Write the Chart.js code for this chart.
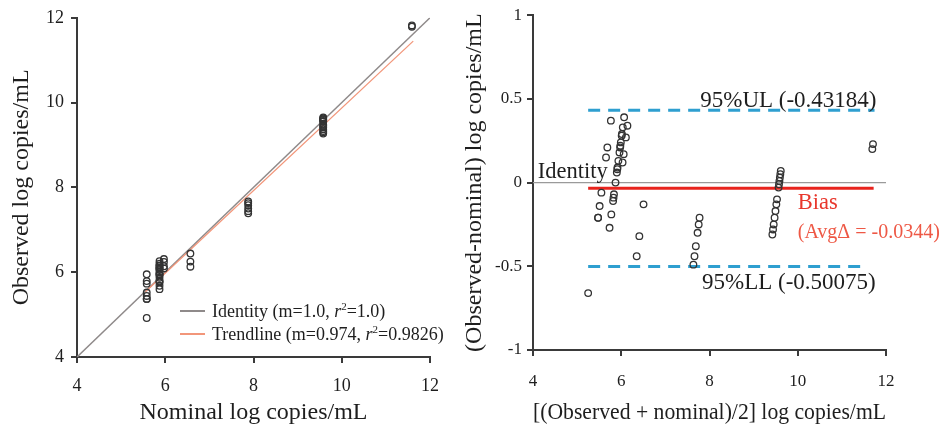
<!DOCTYPE html>
<html><head><meta charset="utf-8">
<script src="https://cdn.jsdelivr.net/npm/chart.js@4.4.0/dist/chart.umd.min.js"></script>
<style>
html,body{margin:0;padding:0;background:#fff;width:943px;height:430px;overflow:hidden;}
#c1{position:absolute;left:0;top:0;}
#c2{position:absolute;left:458px;top:0;}
</style></head><body>
<canvas id="c1" width="470" height="430"></canvas>
<canvas id="c2" width="485" height="430"></canvas>
<script>
// ---------- data ----------
const nominalLog = [
  5.58,5.58,5.58,5.58,5.58,5.58,5.58,5.58,
  5.87,5.87,5.87,5.87,5.87,5.87,5.87,5.87,5.87,5.87,5.87,5.87,5.87,5.87,5.87,5.87,5.87,5.87,
  5.97,5.97,5.97,5.97,
  6.57,6.57,6.57,
  7.88,7.88,7.88,7.88,7.88,7.88,
  9.58,9.58,9.58,9.58,9.58,9.58,9.58,9.58,9.58,9.58,9.58,9.58,9.58,
  11.59,11.59
];
const observedLog = [
  4.92,5.37,5.37,5.44,5.52,5.73,5.79,5.95,
  5.60,5.68,5.76,5.78,5.80,5.87,5.93,5.95,5.96,6.00,6.05,6.08,6.09,6.11,6.15,6.16,6.20,6.26,
  6.09,6.14,6.24,6.31,
  6.44,6.25,6.13,
  7.67,7.63,7.58,7.50,7.44,7.39,
  9.65,9.63,9.61,9.59,9.57,9.55,9.48,9.45,9.41,9.37,9.33,9.30,9.27,
  11.82,11.79
];
const identityX = [4, 12];
const identityY = [4, 12];
const trendX = [5.55, 11.62];
const trendY = [5.54, 11.45];

const biasValue = -0.0344;
const upperLimit = 0.43184;
const lowerLimit = -0.50075;
const zeroLineX = [4, 12];
const biasX = [5.25, 11.72];
const upperX = [5.25, 11.74];
const lowerX = [5.25, 11.57];

const axisTicksX = [4, 6, 8, 10, 12];
const leftTicksY = [4, 6, 8, 10, 12];
const rightTicksY = [-1, -0.5, 0, 0.5, 1];

const legendTexts = [
  ['Identity (m=1.0, ', '=1.0)'],
  ['Trendline (m=0.974, ', '=0.9826)']
];
const upperLabel = '95%UL (-0.43184)';
const lowerLabel = '95%LL (-0.50075)';
const identityLabel = 'Identity';
const biasLabel = 'Bias';
const avgLabel = '(Avg\u0394 = -0.0344)';

// ---------- derived (Bland-Altman) ----------
const baMean = nominalLog.map((n, i) => (n + observedLog[i]) / 2);
const baDiff = nominalLog.map((n, i) => observedLog[i] - n);

const FONT = "'Liberation Serif', 'Times New Roman', serif";
const AXC = '#3a3a3a';
const TXT = '#1e1e1e';

function pts(xs, ys) { return xs.map((x, i) => ({x, y: ys[i]})); }

function axis(min, max, ticks, fontSize, tickPad, title, titlePad, fitProp, fitVal) {
  return {
    type: 'linear', min, max,
    afterBuildTicks: s => { s.ticks = ticks.map(v => ({value: v})); },
    ticks: {font: {family: FONT, size: fontSize}, color: TXT, padding: tickPad,
            callback: v => String(v)},
    grid: {drawOnChartArea: false, drawTicks: true, tickLength: 6, color: AXC, lineWidth: 2},
    border: {display: true, color: AXC, width: 2},
    title: {display: true, text: title, color: TXT, font: {family: FONT, size: 24}, padding: titlePad},
    afterFit: s => { s[fitProp] = fitVal; }
  };
}

// ---------- left chart ----------
const legendPlugin = {
  id: 'legendLeft',
  afterDraw(chart) {
    const ctx = chart.ctx;
    const rows = [{y: 311, color: '#8f8a8a'}, {y: 334, color: '#f2967a'}];
    ctx.save();
    rows.forEach((r, i) => {
      ctx.strokeStyle = r.color; ctx.lineWidth = 2;
      ctx.beginPath(); ctx.moveTo(180, r.y); ctx.lineTo(205, r.y); ctx.stroke();
      ctx.fillStyle = TXT; ctx.textBaseline = 'alphabetic';
      let x = 212; const base = r.y + 6;
      ctx.font = '18px ' + FONT;
      ctx.fillText(legendTexts[i][0], x, base); x += ctx.measureText(legendTexts[i][0]).width;
      ctx.font = 'italic 18px ' + FONT;
      ctx.fillText('r', x, base); x += ctx.measureText('r').width;
      ctx.font = '11px ' + FONT;
      ctx.fillText('2', x, base - 7); x += ctx.measureText('2').width;
      ctx.font = '18px ' + FONT;
      ctx.fillText(legendTexts[i][1], x, base);
    });
    ctx.restore();
  }
};

new Chart(document.getElementById('c1'), {
  type: 'scatter',
  data: {datasets: [
    {data: pts(nominalLog, observedLog), pointRadius: 3.3, pointHoverRadius: 3.3, borderWidth: 1.3,
     borderColor: '#333', backgroundColor: 'rgba(0,0,0,0)', order: 0},
    {type: 'line', data: pts(identityX, identityY), borderColor: '#8f8a8a', borderWidth: 1.5,
     pointRadius: 0, fill: false, order: 2},
    {type: 'line', data: pts(trendX, trendY), borderColor: '#f2967a', borderWidth: 1.3,
     pointRadius: 0, fill: false, order: 1}
  ]},
  options: {
    responsive: false, animation: false, devicePixelRatio: 1,
    layout: {padding: {left: 0, top: 15, right: 40, bottom: 0}, autoPadding: false},
    plugins: {legend: {display: false}, tooltip: {enabled: false}},
    scales: {
      x: axis(4, 12, axisTicksX, 18, 12.7, 'Nominal log copies/mL', {top: 0, bottom: 3}, 'height', 73),
      y: axis(4, 12, leftTicksY, 18, 7, 'Observed log copies/mL', {top: 7.3, bottom: 0}, 'width', 77)
    }
  },
  plugins: [legendPlugin]
});

// ---------- right chart ----------
const annotPlugin = {
  id: 'annotRight',
  afterDraw(chart) {
    const ctx = chart.ctx, xs = chart.scales.x, ys = chart.scales.y;
    const put = (text, xv, yv, size, color) => {
      ctx.font = size + 'px ' + FONT; ctx.fillStyle = color;
      ctx.textBaseline = 'alphabetic'; ctx.textAlign = 'left';
      ctx.fillText(text, xs.getPixelForValue(xv), ys.getPixelForValue(yv));
    };
    ctx.save();
    put(upperLabel, 7.79, 0.454, 23, TXT);
    put(lowerLabel, 7.83, -0.635, 23, TXT);
    put(identityLabel, 4.11, 0.026, 22.5, TXT);
    put(biasLabel, 10.0, -0.155, 22.5, '#e8372c');
    put(avgLabel, 10.0, -0.33, 20, '#ee5845');
    ctx.restore();
  }
};

function hline(xr, yv, color, width, dash, order) {
  return {type: 'line', data: pts(xr, [yv, yv]), borderColor: color, borderWidth: width,
          borderDash: dash, pointRadius: 0, fill: false, order};
}

new Chart(document.getElementById('c2'), {
  type: 'scatter',
  data: {datasets: [
    {data: pts(baMean, baDiff), pointRadius: 3.3, pointHoverRadius: 3.3, borderWidth: 1.3,
     borderColor: '#333', backgroundColor: 'rgba(0,0,0,0)', order: 0},
    hline(zeroLineX, 0, '#9a9a9a', 1.2, [], 4),
    hline(biasX, biasValue, '#e8231d', 3, [], 1),
    hline(upperX, upperLimit, '#2e9fd0', 3, [12, 8], 2),
    hline(lowerX, lowerLimit, '#2e9fd0', 3, [12, 8], 3)
  ]},
  options: {
    responsive: false, animation: false, devicePixelRatio: 1,
    layout: {padding: {left: 0, top: 15, right: 57, bottom: 0}, autoPadding: false},
    plugins: {legend: {display: false}, tooltip: {enabled: false}},
    scales: {
      x: axis(4, 12, axisTicksX, 17, 15.6, '[(Observed + nominal)/2] log copies/mL', {top: 0, bottom: 3}, 'height', 80),
      y: axis(-1, 1, rightTicksY, 17, 5, '(Observed-nominal) log copies/mL', {top: 2.3, bottom: 0}, 'width', 75)
    }
  },
  plugins: [annotPlugin]
});
</script>
</body></html>
